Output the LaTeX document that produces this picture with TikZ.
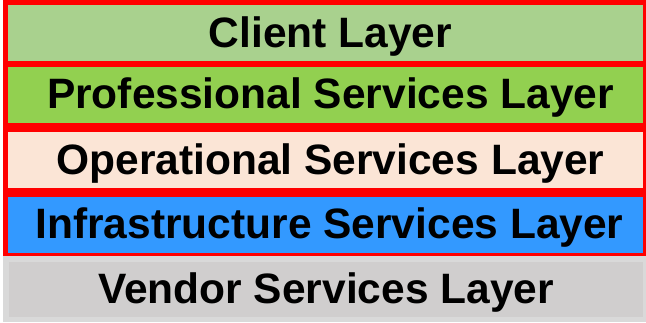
\documentclass[tikz,border=0pt]{standalone}
\usepackage{fontspec}
\setmainfont{Liberation Sans}
\usetikzlibrary{positioning}

\definecolor{clientgreen}{HTML}{A9D18E}
\definecolor{profgreen}{HTML}{92D050}
\definecolor{opspeach}{HTML}{FBE5D6}
\definecolor{infrablue}{HTML}{3399FF}
\definecolor{vendorgray}{HTML}{D0CECE}
\definecolor{vendorback}{HTML}{D9D9D9}

\tikzset{
    layer/.style = {rectangle, inner sep = 0pt, minimum width = 635pt,
        minimum height = 56pt},
    layertext/.style = {inner sep = 0pt, text height = 28pt, text depth = 0pt,
        font = \fontsize{42.5}{48}\selectfont\bfseries}
}

\begin{document}
\begin{tikzpicture}[x = 1pt, y = -1pt]
                \useasboundingbox (0,0) rectangle (646,322);
                % red frame behind the upper four layers, grey band for the last
                \node[rectangle, fill = red, inner sep = 0pt, minimum width = 643pt,
                    minimum height = 256pt] (frame) at (324.5,128) {};
                \node[rectangle, fill = vendorback, inner sep = 0pt, minimum width = 643pt,
                    minimum height = 66pt] (vendorband) at (324.5,289) {};

                \node[layer, fill = clientgreen] (client) at (325.5,32.5) {};
                \node[layer, fill = profgreen] (prof) at (325.5,94.5) {};
                \node[layer, fill = opspeach] (ops) at (325.5,160) {};
                \node[layer, fill = infrablue] (infra) at (325.5,224.5) {};
                \node[layer, fill = vendorgray, minimum width = 634pt,
                    minimum height = 55pt] (vendor) at (326,289.5) {};

                \node[layertext, xshift = 5pt, yshift = -1pt] (clienttext) at (client) {Client Layer};
                \node[layertext, xshift = 5pt] (proftext) at (prof) {Professional Services Layer};
                \node[layertext, xshift = 5pt] (opstext) at (ops) {Operational Services Layer};
                \node[layertext, xshift = 4pt] (infratext) at (infra) {Infrastructure Services Layer};
                \node[layertext] (vendortext) at (vendor) {Vendor Services Layer};
            \end{tikzpicture}
\end{document}
